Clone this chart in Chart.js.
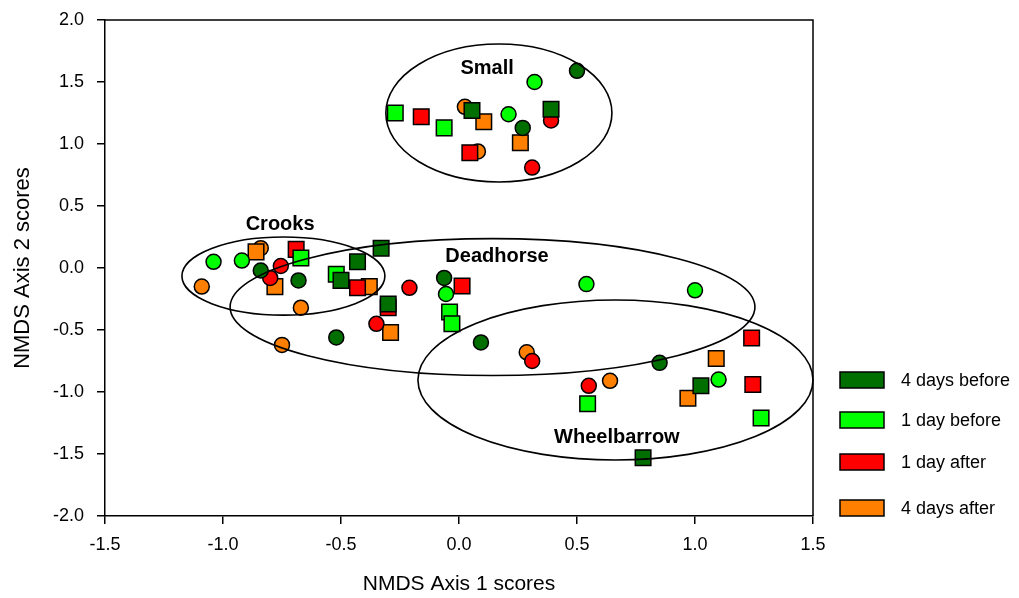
<!DOCTYPE html>
<html>
<head>
<meta charset="utf-8">
<script src="https://cdn.jsdelivr.net/npm/chart.js@4"></script>
<style>
  html, body { margin: 0; padding: 0; background: #fff; }
  #chart { display: block; }
</style>
</head>
<body>
<canvas id="chart" width="1019" height="598"></canvas>
<script>
// series (sampling time) and their fill colours
const seriesNames = ["4 days before", "1 day before", "1 day after", "4 days after"];
const seriesColors = ["#006f00", "#00ff00", "#ff0000", "#ff8000"];

// NMDS scores: [axis1, axis2]
const before4Circles = [[0.50, 1.59], [0.27, 1.13], [-0.84, -0.02], [-0.68, -0.10], [-0.52, -0.56], [-0.063, -0.08], [0.093, -0.60], [0.85, -0.765]];
const before4Squares = [[0.055, 1.27], [0.39, 1.28], [-0.33, 0.16], [-0.43, 0.05], [-0.50, -0.10], [-0.30, -0.29], [1.025, -0.95], [0.78, -1.53]];
const before1Circles = [[0.32, 1.50], [0.21, 1.24], [-1.04, 0.05], [-0.92, 0.06], [-0.055, -0.21], [0.54, -0.13], [1.0, -0.18], [1.10, -0.90]];
const before1Squares = [[-0.27, 1.25], [-0.063, 1.13], [-0.67, 0.08], [-0.52, -0.05], [-0.04, -0.355], [-0.03, -0.45], [0.545, -1.095], [1.28, -1.21]];
const after1Circles = [[0.39, 1.19], [0.31, 0.81], [-0.755, 0.016], [-0.80, -0.08], [-0.21, -0.16], [-0.35, -0.45], [0.31, -0.75], [0.55, -0.95]];
const after1Squares = [[-0.16, 1.22], [0.046, 0.93], [-0.69, 0.15], [-0.43, -0.16], [-0.30, -0.32], [0.013, -0.145], [1.24, -0.565], [1.245, -0.94]];
const after4Circles = [[0.025, 1.30], [0.08, 0.94], [-1.09, -0.15], [-0.84, 0.16], [-0.67, -0.32], [-0.75, -0.62], [0.287, -0.68], [0.64, -0.91]];
const after4Squares = [[0.105, 1.18], [0.26, 1.01], [-0.86, 0.13], [-0.78, -0.15], [-0.38, -0.15], [-0.29, -0.52], [1.09, -0.73], [0.97, -1.05]];

const circleSets = [before4Circles, before1Circles, after1Circles, after4Circles];
const squareSets = [before4Squares, before1Squares, after1Squares, after4Squares];

// site groups: ellipse centre / half-widths in axis units, label anchor
const groupNames = ["Small", "Crooks", "Deadhorse", "Wheelbarrow"];
const groupCx = [0.169, -0.744, 0.142, 0.663];
const groupCy = [1.25, -0.065, -0.315, -0.903];
const groupRx = [0.479, 0.43, 1.112, 0.837];
const groupRy = [0.556, 0.315, 0.552, 0.645];
const labelX = [0.119, -0.758, 0.161, 0.669];
const labelY = [1.61, 0.347, 0.089, -1.37];

const axisTicks = [-2.0, -1.5, -1.0, -0.5, 0.0, 0.5, 1.0, 1.5, 2.0];

const FONT = "'Liberation Sans', Arial, Helvetica, sans-serif";
Chart.defaults.font.family = FONT;
Chart.defaults.color = "#000";

const toPts = arr => arr.map(p => ({x: p[0], y: p[1]}));

const datasets = [];
seriesNames.forEach((name, i) => {
  datasets.push({
    label: name,
    data: toPts(squareSets[i]),
    pointStyle: "rect",
    pointRadius: 11,
    backgroundColor: seriesColors[i],
    borderColor: "#000",
    borderWidth: 1.5
  });
  datasets.push({
    label: name,
    data: toPts(circleSets[i]),
    pointStyle: "circle",
    pointRadius: 7.5,
    backgroundColor: seriesColors[i],
    borderColor: "#000",
    borderWidth: 1.5
  });
});

const groupsPlugin = {
  id: "groups",
  afterDatasetsDraw(chart) {
    const {ctx, scales: {x, y}} = chart;
    ctx.save();
    ctx.strokeStyle = "#000";
    ctx.lineWidth = 1.6;
    ctx.fillStyle = "#000";
    ctx.font = "bold 20px " + FONT;
    ctx.textAlign = "center";
    ctx.textBaseline = "middle";
    groupNames.forEach((name, i) => {
      const cx = x.getPixelForValue(groupCx[i]);
      const cy = y.getPixelForValue(groupCy[i]);
      const rx = Math.abs(x.getPixelForValue(groupCx[i] + groupRx[i]) - cx);
      const ry = Math.abs(y.getPixelForValue(groupCy[i] + groupRy[i]) - cy);
      ctx.beginPath();
      ctx.ellipse(cx, cy, rx, ry, 0, 0, Math.PI * 2);
      ctx.stroke();
      ctx.fillText(name, x.getPixelForValue(labelX[i]), y.getPixelForValue(labelY[i]));
    });
    ctx.restore();
  },
  afterDraw(chart) {
    const {ctx, chartArea: a} = chart;
    ctx.save();
    // top and right frame lines
    ctx.strokeStyle = "#000";
    ctx.lineWidth = 1.5;
    ctx.beginPath();
    ctx.moveTo(a.left, a.top);
    ctx.lineTo(a.right, a.top);
    ctx.lineTo(a.right, a.bottom);
    ctx.stroke();

    // legend
    const rowsY = [380, 420, 462, 508];
    ctx.font = "18px " + FONT;
    ctx.textBaseline = "middle";
    ctx.textAlign = "left";
    seriesNames.forEach((name, i) => {
      ctx.fillStyle = seriesColors[i];
      ctx.fillRect(840, rowsY[i] - 8, 44, 16);
      ctx.strokeRect(840, rowsY[i] - 8, 44, 16);
      ctx.fillStyle = "#000";
      ctx.fillText(name, 901, rowsY[i] + 1);
    });
    ctx.restore();
  }
};

const tickFmt = v => Number(v).toFixed(1);

new Chart(document.getElementById("chart"), {
  type: "scatter",
  data: {datasets},
  options: {
    responsive: false,
    animation: false,
    layout: {padding: {left: 10, right: 206, top: 20, bottom: 0}},
    plugins: {legend: {display: false}, tooltip: {enabled: false}},
    scales: {
      x: {
        type: "linear",
        min: -1.5,
        max: 1.5,
        afterBuildTicks: s => { s.ticks = axisTicks.filter(v => v >= -1.5 && v <= 1.5).map(v => ({value: v})); },
        ticks: {callback: tickFmt, font: {size: 18}, color: "#000", padding: 10, maxRotation: 0, autoSkip: false},
        grid: {drawOnChartArea: false, drawTicks: true, tickLength: 8, color: "#000", lineWidth: 1.5},
        border: {display: true, color: "#000", width: 1.5},
        title: {display: true, text: "NMDS Axis 1 scores", font: {size: 21}, color: "#000", padding: {top: 0, bottom: 1}},
        afterFit: s => { s.height = 82; s.paddingLeft = 0; s.paddingRight = 0; }
      },
      y: {
        type: "linear",
        min: -2,
        max: 2,
        afterBuildTicks: s => { s.ticks = axisTicks.map(v => ({value: v})); },
        ticks: {callback: tickFmt, font: {size: 18}, color: "#000", padding: 13, autoSkip: false},
        grid: {drawOnChartArea: false, drawTicks: true, tickLength: 8, color: "#000", lineWidth: 1.5},
        border: {display: true, color: "#000", width: 1.5},
        title: {display: true, text: "NMDS Axis 2 scores", font: {size: 22}, color: "#000", padding: {top: 0, bottom: 0}},
        afterFit: s => { s.width = 95; s.paddingTop = 0; s.paddingBottom = 0; }
      }
    }
  },
  plugins: [groupsPlugin]
});
</script>
</body>
</html>
